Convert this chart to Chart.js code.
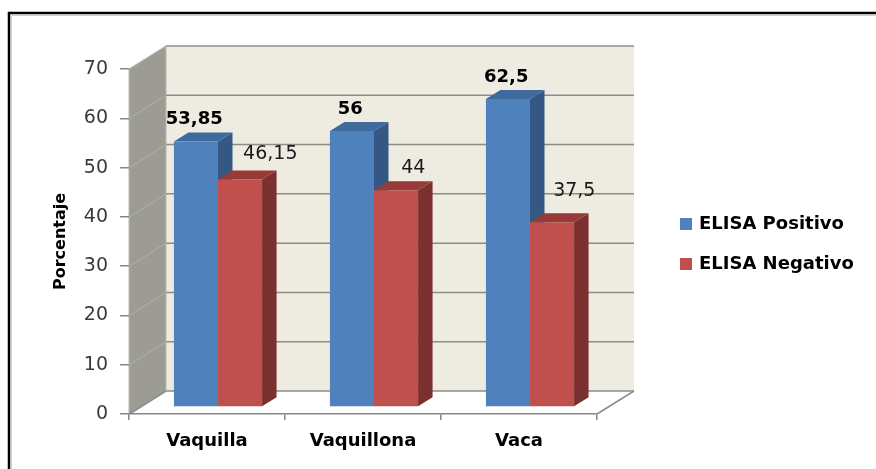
<!DOCTYPE html>
<html>
<head>
<meta charset="utf-8">
<title>ELISA por categoría</title>
<script src="https://cdn.jsdelivr.net/npm/chart.js@4.4.1/dist/chart.umd.min.js"></script>
<style>
  html, body { margin: 0; padding: 0; background: #ffffff; }
  canvas { display: block; }
</style>
</head>
<body>
<canvas id="chart" width="876" height="469"></canvas>
<script>
// Categories and series values
const categories = ['Vaquilla', 'Vaquillona', 'Vaca'];
const elisaPositivo = [53.85, 56, 62.5];
const elisaNegativo = [46.15, 44, 37.5];
const seriesNames = ['ELISA Positivo', 'ELISA Negativo'];
const yTickValues = [0, 10, 20, 30, 40, 50, 60, 70];

// 3D look: offsets of the back wall, the bars' front plane and the bar depth
const WALL = { dx: 37, dy: -23 };
const BAR_FRONT = { dx: 11, dy: -7 };
const BAR_DEPTH = { dx: 14.5, dy: -9 };

const COLORS = {
  wall: '#EEEBE1',
  sideWall: '#9D9C94',
  sideWallEdge: '#B8B7AF',
  grid: '#8C8C8C',
  sideGrid: '#B2B1A9',
  floorEdge: '#8C8C8C',
  faces: [
    { front: '#4F81BD', top: '#3E6A9E', side: '#345883' },
    { front: '#C0504D', top: '#963B39', side: '#7B2F2E' }
  ]
};

// Label nudges (relative to the centre of the bar's top-back edge)
const LABEL_NUDGE = [
  [{ dx: -9, dy: -13 }, { dx: -9, dy: -13 }, { dx: -9, dy: -13 }],
  [{ dx: 23, dy: -16 }, { dx: 10, dy: -13 }, { dx: 15, dy: -22 }]
];

const fmt = v => String(v).replace('.', ',');

function poly(ctx, pts, fill, stroke, lw) {
  ctx.beginPath();
  ctx.moveTo(pts[0][0], pts[0][1]);
  for (let i = 1; i < pts.length; i++) ctx.lineTo(pts[i][0], pts[i][1]);
  ctx.closePath();
  if (fill) { ctx.fillStyle = fill; ctx.fill(); }
  if (stroke) { ctx.strokeStyle = stroke; ctx.lineWidth = lw || 1; ctx.stroke(); }
}

// Walls, floor and gridlines behind the bars
const wallsPlugin = {
  id: 'walls',
  beforeDraw(chart) {
    const { ctx, chartArea: a, scales: { y } } = chart;
    const L = a.left, R = a.right, B = a.bottom, T = y.getPixelForValue(yTickValues[yTickValues.length - 1]);
    ctx.save();
    // back wall
    poly(ctx, [[L + WALL.dx, T + WALL.dy], [R + WALL.dx, T + WALL.dy], [R + WALL.dx, B + WALL.dy], [L + WALL.dx, B + WALL.dy]], COLORS.wall);
    // side wall
    poly(ctx, [[L, T], [L + WALL.dx, T + WALL.dy], [L + WALL.dx, B + WALL.dy], [L, B]], COLORS.sideWall, COLORS.sideWallEdge, 1);
    // floor
    poly(ctx, [[L, B], [L + WALL.dx, B + WALL.dy], [R + WALL.dx, B + WALL.dy], [R, B]], '#ffffff');
    // gridlines on the back and side walls
    yTickValues.forEach(v => {
      const py = y.getPixelForValue(v);
      ctx.beginPath();
      ctx.moveTo(L + 0.5, py);
      ctx.lineTo(L + WALL.dx, py + WALL.dy);
      ctx.strokeStyle = v === 0 ? COLORS.floorEdge : COLORS.sideGrid;
      ctx.lineWidth = v === 0 ? 1.5 : 1;
      ctx.stroke();
      ctx.beginPath();
      ctx.moveTo(L + WALL.dx, py + WALL.dy);
      ctx.lineTo(R + WALL.dx, py + WALL.dy);
      ctx.strokeStyle = COLORS.grid;
      ctx.lineWidth = 1.5;
      ctx.stroke();
    });
    // floor right edge
    ctx.beginPath();
    ctx.moveTo(R, B);
    ctx.lineTo(R + WALL.dx, B + WALL.dy);
    ctx.strokeStyle = COLORS.floorEdge;
    ctx.lineWidth = 1.5;
    ctx.stroke();
    ctx.restore();
  }
};

// Bars drawn as prisms from the library's bar elements, then their value labels
const prismPlugin = {
  id: 'prisms',
  beforeDatasetsDraw(chart) {
    const { ctx } = chart;
    const metas = chart.data.datasets.map((_, i) => chart.getDatasetMeta(i));
    const labels = [];
    ctx.save();
    categories.forEach((_, ci) => {
      metas.forEach((meta, di) => {
        const el = meta.data[ci];
        const c = COLORS.faces[di];
        const left = el.x - el.width / 2 + BAR_FRONT.dx;
        const right = el.x + el.width / 2 + BAR_FRONT.dx;
        const top = el.y + BAR_FRONT.dy;
        const bottom = el.base + BAR_FRONT.dy;
        const D = BAR_DEPTH;
        poly(ctx, [[right, top], [right + D.dx, top + D.dy], [right + D.dx, bottom + D.dy], [right, bottom]], c.side);
        poly(ctx, [[left, top], [left + D.dx, top + D.dy], [right + D.dx, top + D.dy], [right, top]], c.top);
        poly(ctx, [[left, top], [right, top], [right, bottom], [left, bottom]], c.front);
        const n = LABEL_NUDGE[di][ci];
        labels.push({
          text: fmt(chart.data.datasets[di].data[ci]),
          x: (left + right) / 2 + D.dx / 2 + n.dx,
          y: top + D.dy + n.dy,
          bold: di === 0
        });
      });
    });
    ctx.textAlign = 'center';
    ctx.textBaseline = 'middle';
    labels.forEach(l => {
      ctx.font = (l.bold ? 'bold 18px' : '19px') + ' "DejaVu Sans"';
      ctx.fillStyle = l.bold ? '#000000' : '#1a1a1a';
      ctx.fillText(l.text, l.x, l.y);
    });
    ctx.restore();
    return false;
  }
};

// Legend on the right and the outer frame
const legendFramePlugin = {
  id: 'legendFrame',
  afterDraw(chart) {
    const { ctx } = chart;
    ctx.save();
    chart.data.datasets.forEach((ds, i) => {
      const cy = 224 + i * 40;
      ctx.fillStyle = ds.backgroundColor;
      ctx.fillRect(680, cy - 6, 12, 12);
      ctx.font = 'bold 18px "DejaVu Sans"';
      ctx.fillStyle = '#000000';
      ctx.textAlign = 'left';
      ctx.textBaseline = 'middle';
      ctx.fillText(ds.label, 699, cy);
    });
    ctx.strokeStyle = '#d0d0d0';
    ctx.lineWidth = 1;
    ctx.beginPath();
    ctx.moveTo(11.5, 480);
    ctx.lineTo(11.5, 15.5);
    ctx.lineTo(880, 15.5);
    ctx.stroke();
    ctx.strokeStyle = '#000000';
    ctx.lineWidth = 2.5;
    ctx.beginPath();
    ctx.moveTo(9, 480);
    ctx.lineTo(9, 13);
    ctx.lineTo(880, 13);
    ctx.stroke();
    ctx.restore();
  }
};

Chart.defaults.font.family = '"DejaVu Sans"';

new Chart(document.getElementById('chart'), {
  type: 'bar',
  data: {
    labels: categories,
    datasets: [
      { label: seriesNames[0], data: elisaPositivo, backgroundColor: '#4F81BD' },
      { label: seriesNames[1], data: elisaNegativo, backgroundColor: '#C0504D' }
    ]
  },
  options: {
    responsive: false,
    animation: false,
    events: [],
    layout: { padding: { left: 0, right: 279, top: 69, bottom: 0 } },
    datasets: { bar: { categoryPercentage: 0.565, barPercentage: 1 } },
    scales: {
      x: {
        grid: { drawOnChartArea: false, tickLength: 6, color: '#868686', lineWidth: 1.5, offset: true },
        border: { display: true, color: '#868686', width: 1.5 },
        ticks: { font: { size: 18, weight: 'bold' }, color: '#000000', padding: 11 },
        afterFit(scale) { scale.height = 55; }
      },
      y: {
        min: 0,
        max: 70,
        afterBuildTicks(scale) { scale.ticks = yTickValues.map(v => ({ value: v })); },
        grid: { drawOnChartArea: false, tickLength: 9, color: '#868686', lineWidth: 1.5 },
        border: { display: false },
        ticks: { font: { size: 19 }, color: '#3a3a3a', padding: 12 },
        title: {
          display: true,
          text: 'Porcentaje',
          font: { size: 16, weight: 'bold' },
          color: '#000000',
          padding: { top: 51, bottom: 0 }
        },
        afterFit(scale) { scale.width = 129; }
      }
    },
    plugins: {
      legend: { display: false },
      tooltip: { enabled: false }
    }
  },
  plugins: [wallsPlugin, prismPlugin, legendFramePlugin]
});
</script>
</body>
</html>
